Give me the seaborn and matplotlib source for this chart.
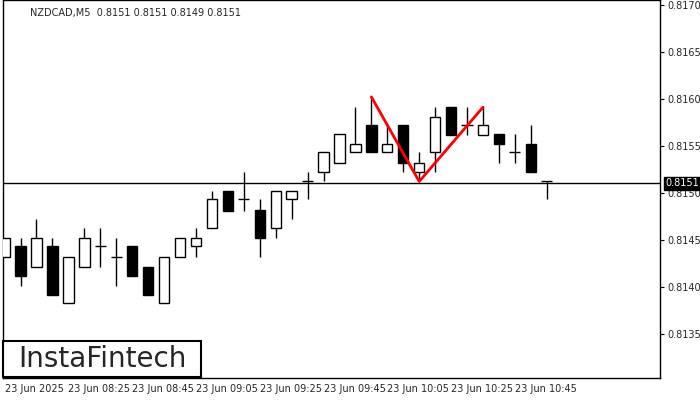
import numpy as np
import pandas as pd
import matplotlib.pyplot as plt
import seaborn as sns
from matplotlib.patches import Rectangle

opens = [0.81432, 0.81443, 0.81421, 0.81443, 0.81383, 0.81421, 0.81443, 0.81432, 0.81443, 0.81421,
         0.81383, 0.81432, 0.81443, 0.81463, 0.81502, 0.81493, 0.81482, 0.81463, 0.81493, 0.81512,
         0.81522, 0.81532, 0.81543, 0.81572, 0.81543, 0.81572, 0.81522, 0.81543, 0.81591, 0.81572,
         0.81561, 0.81562, 0.81543, 0.81552, 0.81512]
closes = [0.81452, 0.81412, 0.81452, 0.81391, 0.81432, 0.81452, 0.81443, 0.81432, 0.81412, 0.81391,
          0.81432, 0.81452, 0.81452, 0.81493, 0.81481, 0.81493, 0.81452, 0.81502, 0.81502, 0.81512,
          0.81543, 0.81562, 0.81552, 0.81543, 0.81552, 0.81532, 0.81532, 0.81581, 0.81561, 0.81572,
          0.81572, 0.81552, 0.81543, 0.81522, 0.81512]
highs = [0.81452, 0.81452, 0.81472, 0.81452, 0.81432, 0.81463, 0.81463, 0.81452, 0.81443, 0.81421,
         0.81432, 0.81452, 0.81463, 0.81502, 0.81502, 0.81522, 0.81493, 0.81502, 0.81502, 0.81522,
         0.81543, 0.81562, 0.81591, 0.81602, 0.81572, 0.81572, 0.81543, 0.81591, 0.81591, 0.81591,
         0.81591, 0.81552, 0.81562, 0.81572, 0.81512]
lows = [0.81432, 0.81401, 0.81421, 0.81391, 0.81383, 0.81421, 0.81421, 0.81401, 0.81412, 0.81391,
        0.81383, 0.81432, 0.81432, 0.81463, 0.81481, 0.81481, 0.81432, 0.81452, 0.81472, 0.81493,
        0.81512, 0.81532, 0.81543, 0.81543, 0.81543, 0.81522, 0.81512, 0.81522, 0.81561, 0.81561,
        0.81561, 0.81532, 0.81532, 0.81522, 0.81493]
pattern_idx = [23, 26, 30]
pattern_px = [0.81602, 0.81512, 0.81591]
last_price = 0.8151
price_ticks = [0.8135, 0.8140, 0.8145, 0.8150, 0.8155, 0.8160, 0.8165, 0.8170]
time_labels = ["23 Jun 2025", "23 Jun 08:25", "23 Jun 08:45", "23 Jun 09:05", "23 Jun 09:25",
               "23 Jun 09:45", "23 Jun 10:05", "23 Jun 10:25", "23 Jun 10:45"]

sns.set_style("white")
plt.rcParams['font.family'] = ['DejaVu Sans']
fig = plt.figure(figsize=(7, 4), dpi=100)
ax = fig.add_axes([3 / 700, 22 / 400, 657 / 700, 378 / 400])

df = pd.DataFrame({"i": np.arange(len(opens)), "o": opens, "c": closes, "h": highs, "l": lows})
ax.vlines(df.i, df.l, df.h, color="black", lw=1, zorder=2)
for _, r in df.iterrows():
    up = r.c >= r.o
    bottom = min(r.o, r.c)
    height = abs(r.c - r.o)
    if height < 0.000005:
        ax.hlines(r.o, r.i - 0.35, r.i + 0.35, color="black", lw=1, zorder=3)
    else:
        ax.bar(r.i, height, bottom=bottom, width=0.65, color="white" if up else "black",
               edgecolor="black", lw=1, zorder=3)

sns.lineplot(x=pattern_idx, y=pattern_px, ax=ax, color="red", lw=2, zorder=4)
ax.axhline(last_price, color="black", lw=1, zorder=1)

ax.set_xlim(-0.1, 41.1)
ax.set_ylim(0.81303, 0.81705)
ax.yaxis.tick_right()
ax.set_yticks(price_ticks)
ax.set_yticklabels([f"{p:.4f}" for p in price_ticks], fontsize=7)
ax.set_xticks(np.arange(0, 33, 4))
ax.set_xticklabels(time_labels, fontsize=7, ha="left")
ax.tick_params(axis="both", length=3, pad=2, direction="out", color="black")
ax.tick_params(axis="x", pad=1)
for s in ax.spines.values():
    s.set_color("black")
    s.set_linewidth(1)

ax.text(27 / 657, 0.98, "NZDCAD,M5  0.8151 0.8151 0.8149 0.8151", transform=ax.transAxes,
        fontsize=7, va="top")
ax.annotate("0.8151", xy=(1, last_price), xycoords=("axes fraction", "data"),
            xytext=(4, 0), textcoords="offset points", va="center", ha="left", fontsize=7,
            color="white", bbox=dict(boxstyle="square,pad=0.15", fc="black", ec="black"))

fig.patches.append(Rectangle((3 / 700, 23 / 400), 198 / 700, 36 / 400, transform=fig.transFigure,
                             fc="white", ec="black", lw=1.5, zorder=5))
fig.text(102 / 700, 1 - 359 / 400, "InstaFintech", fontsize=20, va="center", ha="center",
         zorder=6)

fig.savefig("out.png", dpi=100)
